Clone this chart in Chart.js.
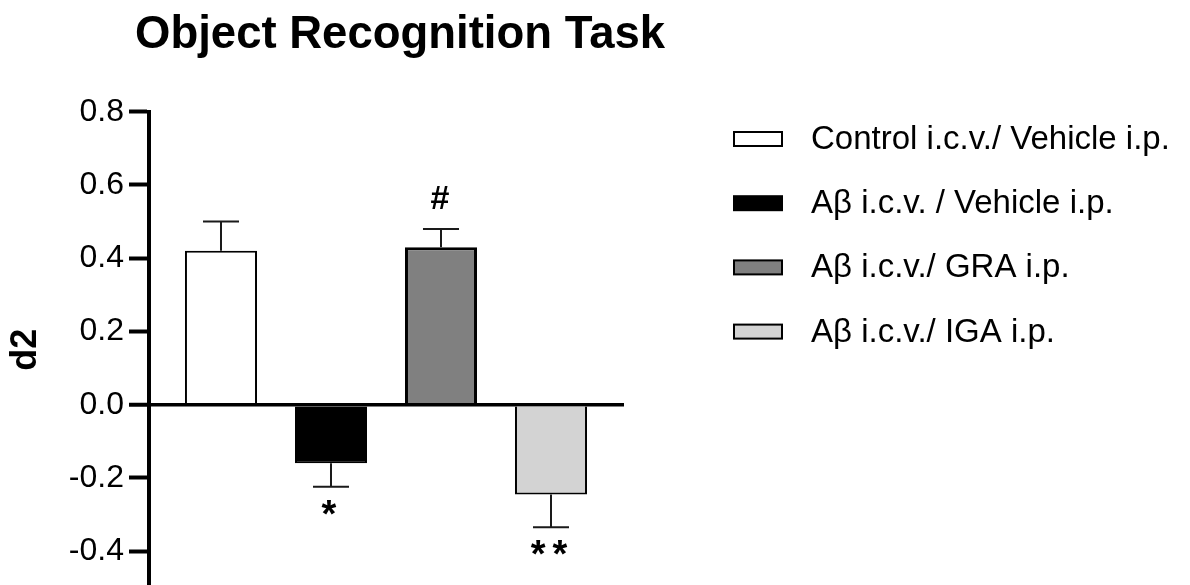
<!DOCTYPE html>
<html>
<head>
<meta charset="utf-8">
<script src="https://cdn.jsdelivr.net/npm/chart.js@4"></script>
<style>
html,body{margin:0;padding:0;overflow:hidden;background:#fff;width:1190px;height:585px}
#wrap{width:1190px;height:612px;position:relative}
canvas{display:block}
</style>
</head>
<body>
<div id="wrap"><canvas id="c" width="1190" height="612"></canvas></div>
<script>
// ---- data ----
const chartTitle = 'Object Recognition Task';
const yAxisTitle = 'd2';
const groups = ['Control i.c.v./ Vehicle i.p.', 'A\u03b2 i.c.v. / Vehicle i.p.', 'A\u03b2 i.c.v./ GRA i.p.', 'A\u03b2 i.c.v./ IGA i.p.'];
const positions = [1, 2, 3, 4];
const means = [0.42, -0.16, 0.43, -0.245];
const sems = [0.08, 0.064, 0.05, 0.09];
const marks = ['', '*', '#', '**'];
const yTicks = [-0.4, -0.2, 0.0, 0.2, 0.4, 0.6, 0.8];

// ---- styles ----
const fills = ['#ffffff', '#000000', '#808080', '#d3d3d3'];
const borderWidths = [2, 2, 3, 2];
const FONT = "Arial, 'Liberation Sans', Helvetica, sans-serif";

Chart.defaults.font.family = FONT;
Chart.defaults.color = '#000';

const datasets = groups.map((g, i) => ({
  label: g,
  data: [{x: positions[i], y: means[i]}],
  backgroundColor: fills[i],
  borderColor: '#000',
  borderWidth: borderWidths[i],
  grouped: false,
  barPercentage: 0.655,
  categoryPercentage: 1.0
}));

const decorPlugin = {
  id: 'decor',
  afterDatasetsDraw(chart) {
    const ctx = chart.ctx;
    const ys = chart.scales.y;
    ctx.save();
    chart.data.datasets.forEach((ds, i) => {
      const el = chart.getDatasetMeta(i).data[0];
      if (!el) return;
      const sign = means[i] >= 0 ? 1 : -1;
      const yEnd = ys.getPixelForValue(means[i] + sign * sems[i]);
      const half = el.width / 4;
      ctx.strokeStyle = '#1a1a1a';
      ctx.lineWidth = 2;
      ctx.beginPath();
      ctx.moveTo(el.x, el.y);
      ctx.lineTo(el.x, yEnd);
      ctx.moveTo(el.x - half, yEnd);
      ctx.lineTo(el.x + half, yEnd);
      ctx.stroke();
      const m = marks[i];
      if (m) {
        ctx.fillStyle = '#000';
        ctx.textAlign = 'center';
        ctx.textBaseline = 'alphabetic';
        if (sign > 0) {
          ctx.font = 'bold 34px ' + FONT;
          ctx.fillText(m, el.x - 1, yEnd - 20);
        } else {
          ctx.font = 'bold 38px ' + FONT;
          let sp = 0;
          if (m.length > 1 && 'letterSpacing' in ctx) { sp = 7; ctx.letterSpacing = sp + 'px'; }
          const asc = ctx.measureText(m).actualBoundingBoxAscent || 27;
          ctx.fillText(m, el.x - 2 + sp / 2, yEnd + 13 + asc);
          if ('letterSpacing' in ctx) ctx.letterSpacing = '0px';
        }
      }
    });
    ctx.restore();
  },
  afterDraw(chart) {
    const ctx = chart.ctx;
    ctx.save();
    ctx.fillStyle = '#000';
    ctx.font = 'bold 45.5px ' + FONT;
    ctx.textAlign = 'left';
    ctx.textBaseline = 'alphabetic';
    ctx.fillText(chartTitle, 135, 48);
    chart.data.datasets.forEach((ds, i) => {
      const cy = 139 + i * 64.2;
      ctx.fillStyle = ds.backgroundColor;
      ctx.fillRect(734, cy - 7, 48, 14);
      ctx.strokeStyle = '#000';
      ctx.lineWidth = 2;
      ctx.strokeRect(734, cy - 7, 48, 14);
      ctx.fillStyle = '#000';
      ctx.font = '33px ' + FONT;
      ctx.textBaseline = 'middle';
      ctx.fillText(ds.label, 811, cy + 1);
    });
    ctx.restore();
  }
};

new Chart(document.getElementById('c'), {
  type: 'bar',
  data: { datasets },
  options: {
    responsive: false,
    animation: false,
    devicePixelRatio: 1,
    layout: { padding: { left: 4, right: 566, top: 111.7, bottom: 0 } },
    plugins: { legend: { display: false }, title: { display: false }, tooltip: { enabled: false } },
    scales: {
      x: {
        type: 'linear',
        display: false,
        offset: false,
        grid: { offset: false },
        min: 0.3455,
        max: 4.6636,
        afterBuildTicks: (s) => { s.ticks = positions.map(v => ({value: v})); }
      },
      y: {
        min: -0.5,
        max: 0.8,
        afterBuildTicks: (s) => { s.ticks = yTicks.map(v => ({value: v})); },
        afterFit: (s) => { s.width = 145; },
        ticks: {
          padding: 5,
          color: '#000',
          font: { size: 32 },
          callback: (v) => Number(v).toFixed(1)
        },
        grid: {
          drawOnChartArea: true,
          color: (c) => (c.tick && Math.abs(c.tick.value) < 1e-9) ? '#000' : 'rgba(0,0,0,0)',
          lineWidth: (c) => (c.tick && Math.abs(c.tick.value) < 1e-9) ? 3.5 : 1,
          tickColor: '#000',
          tickWidth: 4,
          tickLength: 20
        },
        border: { display: true, color: '#000', width: 4 },
        title: {
          display: true,
          text: yAxisTitle,
          color: '#000',
          font: { size: 36, weight: 'bold' },
          padding: { top: 0, bottom: 0 }
        }
      }
    }
  },
  plugins: [decorPlugin]
});
</script>
</body>
</html>
